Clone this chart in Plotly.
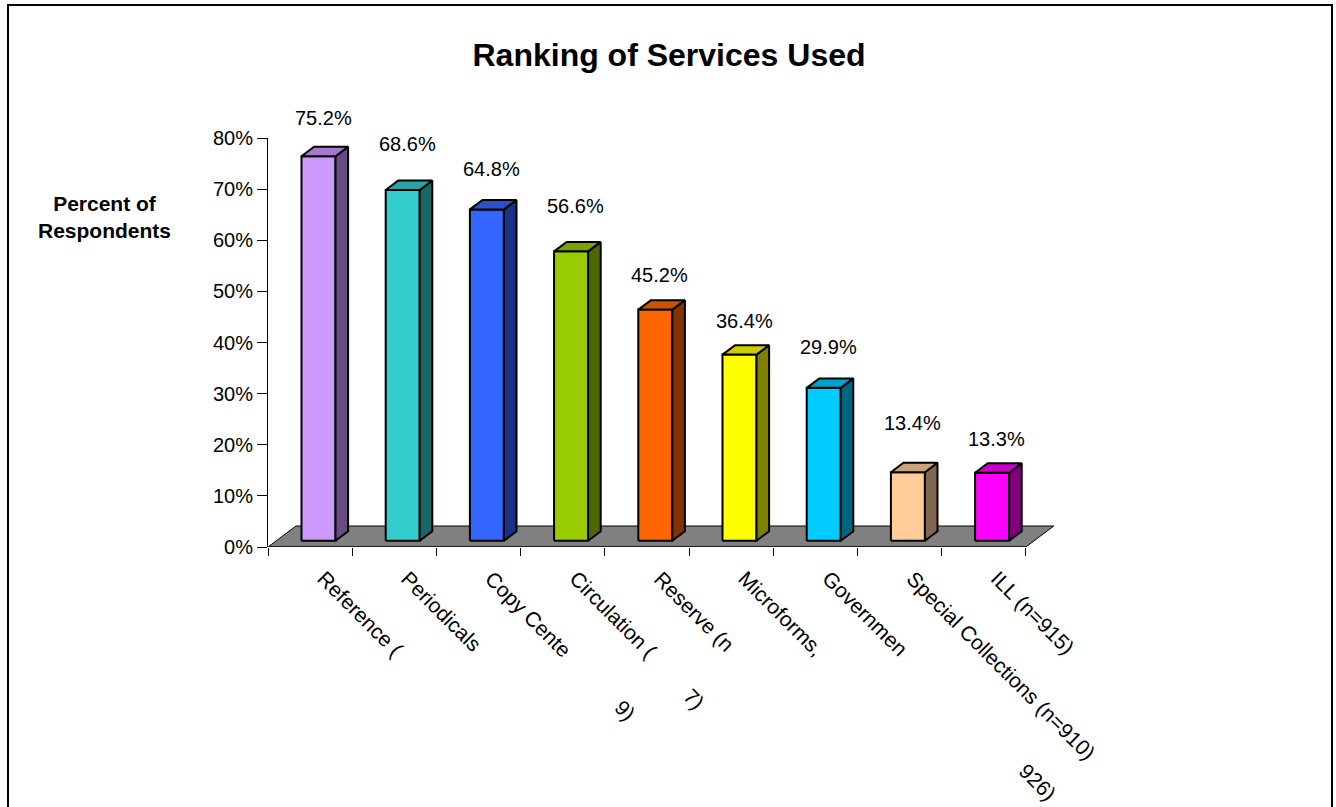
import plotly.graph_objects as go

# ---------------- data ----------------
categories = ["Reference (", "Periodicals", "Copy Cente", "Circulation (", "Reserve (n",
              "Microforms,", "Governmen", "Special Collections (n=910)", "ILL (n=915)"]
values = [75.2, 68.6, 64.8, 56.6, 45.2, 36.4, 29.9, 13.4, 13.3]
value_labels = ["75.2%", "68.6%", "64.8%", "56.6%", "45.2%", "36.4%", "29.9%", "13.4%", "13.3%"]
front_colors = ["#CC99FF", "#33CCCC", "#3366FF", "#99CC00", "#FF6600",
                "#FFFF00", "#00CCFF", "#FFCC99", "#FF00FF"]
y_ticks = [0, 10, 20, 30, 40, 50, 60, 70, 80]
y_tick_text = ["0%", "10%", "20%", "30%", "40%", "50%", "60%", "70%", "80%"]
# visible pieces of label text further along the rotated labels
fragments = [(2, "9)"), (3, "7)"), (6, "926)")]

# ---------------- geometry / style ----------------
FONT = "Liberation Sans, Arial, sans-serif"
W, H = 1336, 807
ML, MT, MB = 268, 138, 260
PX = 84.2                    # pixels per category
PLOT_W = 792
MR = W - ML - PLOT_W
XMAX = -0.5 + PLOT_W / PX
PY = (H - MT - MB) / 80.0    # pixels per percent
DX = 28 / PX                 # floor depth (x, data units)
DY = 21 / PY                 # floor depth (y, data units)
HW = 17 / PX                 # half bar width
F0, F1 = 0.30, 0.75          # bar front/back position inside floor depth
label_gap = [29, 37, 31, 36, 25, 24, 31, 40, 24]
frag_shift = {2: (147, -163), 3: (132, -152), 6: (223, -235)}


def shade(hexc, f):
    h = hexc.lstrip("#")
    r, g, b = (int(h[i:i + 2], 16) for i in (0, 2, 4))
    return "rgb(%d,%d,%d)" % (round(r * f), round(g * f), round(b * f))


fig = go.Figure()
n = len(categories)

# floor
fx = [-0.5, n - 0.5, n - 0.5 + DX, -0.5 + DX, -0.5]
fy = [0, 0, DY, DY, 0]
fig.add_trace(go.Scatter(x=fx, y=fy, mode="lines", fill="toself",
                         fillcolor="#808080", line=dict(color="black", width=1),
                         hoverinfo="skip", showlegend=False))

# bars
for i, v in enumerate(values):
    x0 = i - HW + F0 * DX
    x1 = i + HW + F0 * DX
    yb = F0 * DY
    yt = v + F0 * DY
    ddx = (F1 - F0) * DX
    ddy = (F1 - F0) * DY
    c = front_colors[i]
    line = dict(color="black", width=2)
    # front
    fig.add_trace(go.Scatter(x=[x0, x1, x1, x0, x0], y=[yb, yb, yt, yt, yb],
                             mode="lines", fill="toself", fillcolor=c, line=line,
                             hoverinfo="skip", showlegend=False))
    # side
    fig.add_trace(go.Scatter(x=[x1, x1 + ddx, x1 + ddx, x1, x1],
                             y=[yb, yb + ddy, yt + ddy, yt, yb],
                             mode="lines", fill="toself", fillcolor=shade(c, 0.5),
                             line=line, hoverinfo="skip", showlegend=False))
    # top
    fig.add_trace(go.Scatter(x=[x0, x1, x1 + ddx, x0 + ddx, x0],
                             y=[yt, yt, yt + ddy, yt + ddy, yt],
                             mode="lines", fill="toself", fillcolor=shade(c, 0.8),
                             line=line, hoverinfo="skip", showlegend=False))
    # value label
    fig.add_annotation(x=i, y=v + F1 * DY, text=value_labels[i], showarrow=False,
                       xanchor="center", yanchor="middle",
                       xshift=13, yshift=label_gap[i],
                       font=dict(family=FONT, size=20, color="black"))

# category labels (rotated)
for i, cat in enumerate(categories):
    fig.add_annotation(x=i, y=0, text=cat, showarrow=False, textangle=45,
                       xanchor="left", yanchor="top", xshift=0, yshift=-17,
                       font=dict(family=FONT, size=21, color="black"))
for i, t in fragments:
    sx, sy = frag_shift[i]
    fig.add_annotation(x=i, y=0, text=t, showarrow=False, textangle=45,
                       xanchor="center", yanchor="middle", xshift=sx, yshift=sy,
                       font=dict(family=FONT, size=21, color="black"))

# x baseline
fig.add_shape(type="line", xref="x", yref="y", x0=-0.5, x1=n - 0.5, y0=0, y1=0,
              line=dict(color="black", width=1))

# outer border
fig.add_shape(type="rect", xref="paper", yref="paper",
              x0=(8 - ML) / PLOT_W, x1=(1332 - ML) / PLOT_W,
              y0=-0.7, y1=(H - MB - 5) / (H - MT - MB),
              line=dict(color="black", width=2), fillcolor="rgba(0,0,0,0)")

# y-axis title
fig.add_annotation(xref="paper", yref="paper",
                   x=(104 - ML) / PLOT_W, y=(H - MB - 217) / (H - MT - MB),
                   text="<b>Percent of<br>Respondents</b>", showarrow=False,
                   xanchor="center", yanchor="middle", align="center",
                   font=dict(family=FONT, size=21, color="black"))

fig.update_layout(
    width=W, height=H,
    margin=dict(l=ML, r=MR, t=MT, b=MB, pad=0),
    paper_bgcolor="white", plot_bgcolor="white",
    title=dict(text="<b>Ranking of Services Used</b>", x=669 / W, y=1 - 55 / H,
               xanchor="center", yanchor="middle", xref="container",
               font=dict(family=FONT, size=32, color="black")),
    xaxis=dict(range=[-0.5, XMAX], tickvals=[k - 0.5 for k in range(n + 1)],
               ticks="outside", ticklen=8, tickcolor="black", showticklabels=False,
               showline=False, showgrid=False, zeroline=False, fixedrange=True),
    yaxis=dict(range=[0, 80], tickvals=y_ticks, ticktext=y_tick_text,
               ticks="outside", ticklen=10, tickcolor="black",
               showline=True, linecolor="black", linewidth=1,
               showgrid=False, zeroline=False, fixedrange=True,
               tickfont=dict(family=FONT, size=20, color="black")),
    showlegend=False,
)

fig.write_html("out.html")
